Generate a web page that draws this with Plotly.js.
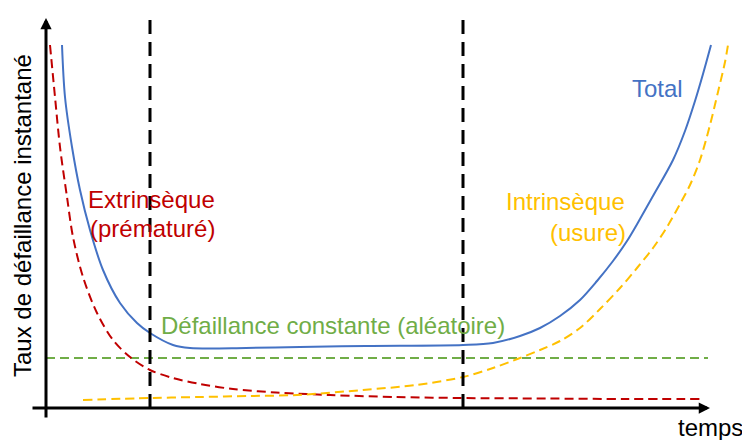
<!DOCTYPE html>
<html>
<head>
<meta charset="utf-8">
<script src="https://cdn.plot.ly/plotly-3.0.1.min.js"></script>
<style>html,body{margin:0;padding:0;background:#fff;}#chart{width:742px;height:440px;}</style>
</head>
<body>
<div id="chart"></div>
<script>
// Time (arbitrary units) and failure rate (arbitrary units)
var extrinsicT = [4, 9, 14, 21, 27, 37, 51, 67, 84, 104, 127, 154, 187, 230, 284, 350, 414, 500, 580, 657];
var extrinsicR = [363, 311, 261, 211, 171, 131, 95, 68, 51, 38, 30, 24, 19, 15.5, 13, 11, 10, 9.5, 9, 9];

var totalT = [16, 19, 26, 34, 44, 57, 74, 91, 104, 127, 144, 200, 254, 320, 417, 447, 474, 494, 514, 534, 551, 567, 581, 594, 607, 627, 639, 649, 657, 665];
var totalR = [363, 311, 261, 218, 178, 138, 105, 85, 75, 63, 60, 60, 61, 62, 63, 65, 72, 80, 92, 108, 127, 147, 167, 189, 212, 248, 277, 307, 334, 363];

var intrinsicT = [37, 104, 154, 204, 251, 317, 370, 417, 447, 474, 494, 514, 534, 554, 574, 591, 607, 621, 634, 644, 654, 664, 672, 679, 682];
var intrinsicR = [8, 10, 11, 12, 13, 18, 23, 31, 40, 50, 58, 67, 80, 99, 120, 140, 160, 181, 204, 223, 248, 283, 316, 346, 363];

var constantT = [0, 662];
var constantR = [50, 50];

var phaseBoundsT = [104, 417];
var phaseLineR = [0, 390];

var labelExtrinsic = ["Extrinsèque", "(prématuré)"];
var labelIntrinsic = ["Intrinsèque", "(usure)"];
var labelTotal = "Total";
var labelConstant = "Défaillance constante (aléatoire)";
var labelX = "temps";
var labelY = "Taux de défaillance instantané";

var FONT = "Liberation Sans, Arial, sans-serif";

var traces = [
  {x: constantT, y: constantR, mode: "lines", line: {color: "#70ad47", width: 2, dash: "9px,5px"}},
  {x: extrinsicT, y: extrinsicR, mode: "lines", line: {color: "#c00000", width: 2, dash: "9px,5px", shape: "spline", smoothing: 0.9}},
  {x: intrinsicT, y: intrinsicR, mode: "lines", line: {color: "#ffc000", width: 2, dash: "9px,5px", shape: "spline", smoothing: 0.9}},
  {x: totalT, y: totalR, mode: "lines", line: {color: "#4472c4", width: 2, shape: "spline", smoothing: 0.9}}
];
phaseBoundsT.forEach(function (t) {
  traces.push({x: [t, t], y: phaseLineR, mode: "lines", line: {color: "#000000", width: 3, dash: "14px,8px"}});
});

function txt(text, x, y, color, xanchor, extra) {
  var a = {text: text, x: x, y: y, xref: "x", yref: "y", showarrow: false,
    xanchor: xanchor, yanchor: "middle", font: {family: FONT, size: 24, color: color}};
  if (extra) for (var k in extra) a[k] = extra[k];
  return a;
}

var annotations = [
  // axes with arrowheads
  {x: 664, y: 0, ax: -15, ay: 0, xref: "x", yref: "y", axref: "x", ayref: "y", text: "",
   showarrow: true, arrowhead: 2, arrowsize: 0.75, arrowwidth: 3, arrowcolor: "#000000", standoff: 0},
  {x: 0, y: 390, ax: 0, ay: -11, xref: "x", yref: "y", axref: "x", ayref: "y", text: "",
   showarrow: true, arrowhead: 2, arrowsize: 0.75, arrowwidth: 3, arrowcolor: "#000000", standoff: 0},
  txt(labelExtrinsic[0], 40, 209, "#c00000", "left"),
  txt(labelExtrinsic[1], 42, 180, "#c00000", "left"),
  txt(labelIntrinsic[0], 581, 207, "#ffc000", "right"),
  txt(labelIntrinsic[1], 582, 176, "#ffc000", "right"),
  txt(labelTotal, 584, 320, "#4472c4", "left"),
  txt(labelConstant, 113, 83, "#70ad47", "left"),
  txt(labelX, 630, -19, "#000000", "left"),
  txt(labelY, -24, 192, "#000000", "center", {textangle: -90})
];

var layout = {
  width: 742, height: 440,
  margin: {l: 0, r: 0, t: 0, b: 0, pad: 0},
  paper_bgcolor: "#ffffff", plot_bgcolor: "#ffffff",
  showlegend: false,
  xaxis: {range: [-46, 696], visible: false, fixedrange: true},
  yaxis: {range: [-32, 408], visible: false, fixedrange: true},
  annotations: annotations
};

Plotly.newPlot("chart", traces, layout, {staticPlot: true, displayModeBar: false});
</script>
</body>
</html>
